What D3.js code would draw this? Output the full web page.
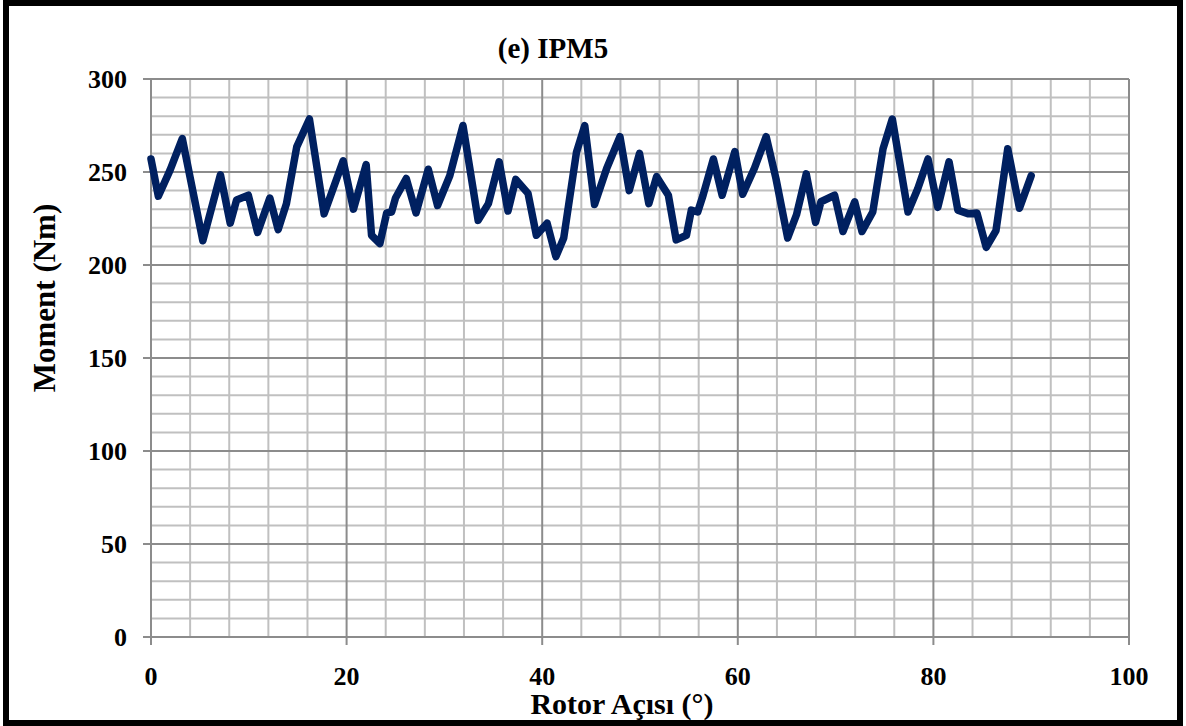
<!DOCTYPE html>
<html>
<head>
<meta charset="utf-8">
<script src="https://cdn.jsdelivr.net/npm/d3@7"></script>
<style>
  html,body{margin:0;padding:0;background:#fff;}
  svg text{font-family:"Liberation Serif","Times New Roman",serif;font-weight:bold;fill:#000;}
</style>
</head>
<body>
<svg id="chart" width="1186" height="726"></svg>
<script>
'use strict';

/* ── data ── */
const angle = [0,0.75,1.95,3.2,5.3,7.1,8.1,8.75,9.95,10.9,12.15,13.0,13.85,14.9,16.2,17.7,19.65,20.7,22.0,22.55,23.4,24.1,24.6,25.0,26.1,27.1,28.35,29.3,30.55,31.9,33.45,34.5,35.6,36.5,37.3,38.55,39.4,40.5,41.4,42.2,43.5,44.35,45.35,46.6,47.95,48.9,49.95,50.9,51.7,52.9,53.7,54.75,55.25,55.9,56.45,57.5,58.4,59.7,60.5,61.7,62.9,63.9,65.1,66.0,67.0,67.95,68.5,69.9,70.75,71.95,72.7,73.8,74.85,75.8,77.4,78.4,79.45,80.45,81.6,82.5,83.6,84.45,85.4,86.4,87.6,88.8,90.0];
const moment = [257,237,251,268,213,248.5,222.5,235,237.5,217.5,236,219,233,263.5,278.5,227.5,256,230,254,216,211.5,228,228.5,236,246.5,228,251.5,232,248,275,224,233,255.5,229,246,238.5,216,222.5,204.5,214.5,260.5,275,232.5,252,269,240,260,233,247.5,237.5,213.5,216,229.5,228.5,237.5,257,237.5,261,238,252,269,246.5,214.5,227,249,223,234,237.5,218,234,218,228.5,262.5,278.5,228.5,241,257,231,255.5,229.5,227.5,228,209.5,218.5,262.5,230.5,248];

const xTicks = [0,20,40,60,80,100];
const yTicks = [0,50,100,150,200,250,300];
const xMinor = d3.range(0,101,4);
const yMinor = d3.range(0,301,10);

/* ── layout ── */
const svg = d3.select('#chart');
const L = 151, R = 1129, T = 79, B = 637;

const x = d3.scaleLinear().domain([0,100]).range([L,R]);
const y = d3.scaleLinear().domain([0,300]).range([B,T]);

/* outer frame */
svg.append('rect')
  .attr('x',6).attr('y',3).attr('width',1174).attr('height',720)
  .attr('fill','none').attr('stroke','#000').attr('stroke-width',6);

/* minor grid */
svg.append('g').selectAll('line').data(xMinor.filter(d=>d%20)).join('line')
  .attr('x1',d=>x(d)).attr('x2',d=>x(d)).attr('y1',T).attr('y2',B)
  .attr('stroke','#c0c0c0').attr('stroke-width',2);
svg.append('g').selectAll('line').data(yMinor.filter(d=>d%50)).join('line')
  .attr('x1',L).attr('x2',R).attr('y1',d=>y(d)).attr('y2',d=>y(d))
  .attr('stroke','#c0c0c0').attr('stroke-width',2);

/* major grid */
svg.append('g').selectAll('line').data(yTicks).join('line')
  .attr('x1',L-8).attr('x2',R).attr('y1',d=>y(d)).attr('y2',d=>y(d))
  .attr('stroke','#8c8c8c').attr('stroke-width',2);
svg.append('g').selectAll('line').data(xTicks).join('line')
  .attr('x1',d=>x(d)).attr('x2',d=>x(d)).attr('y1',T).attr('y2',B+8)
  .attr('stroke','#8c8c8c').attr('stroke-width',2);

/* tick labels */
svg.append('g').selectAll('text').data(yTicks).join('text')
  .attr('x',127).attr('y',d=>y(d)+9)
  .attr('text-anchor','end').attr('font-size',26)
  .text(d=>d);
svg.append('g').selectAll('text').data(xTicks).join('text')
  .attr('x',d=>x(d)).attr('y',685)
  .attr('text-anchor','middle').attr('font-size',26)
  .text(d=>d);

/* series */
const line = d3.line().x((d,i)=>x(angle[i])).y(d=>y(d));
svg.append('path')
  .attr('d',line(moment))
  .attr('fill','none').attr('stroke','#002060')
  .attr('stroke-width',7.5).attr('stroke-linejoin','round').attr('stroke-linecap','round');

/* titles */
svg.append('text').attr('x',553).attr('y',58)
  .attr('text-anchor','middle').attr('font-size',29).text('(e) IPM5');
svg.append('text').attr('x',622).attr('y',714)
  .attr('text-anchor','middle').attr('font-size',30).text('Rotor Açısı (°)');
svg.append('text').attr('transform','translate(55,298) rotate(-90)')
  .attr('text-anchor','middle').attr('font-size',31).text('Moment (Nm)');
</script>
</body>
</html>
